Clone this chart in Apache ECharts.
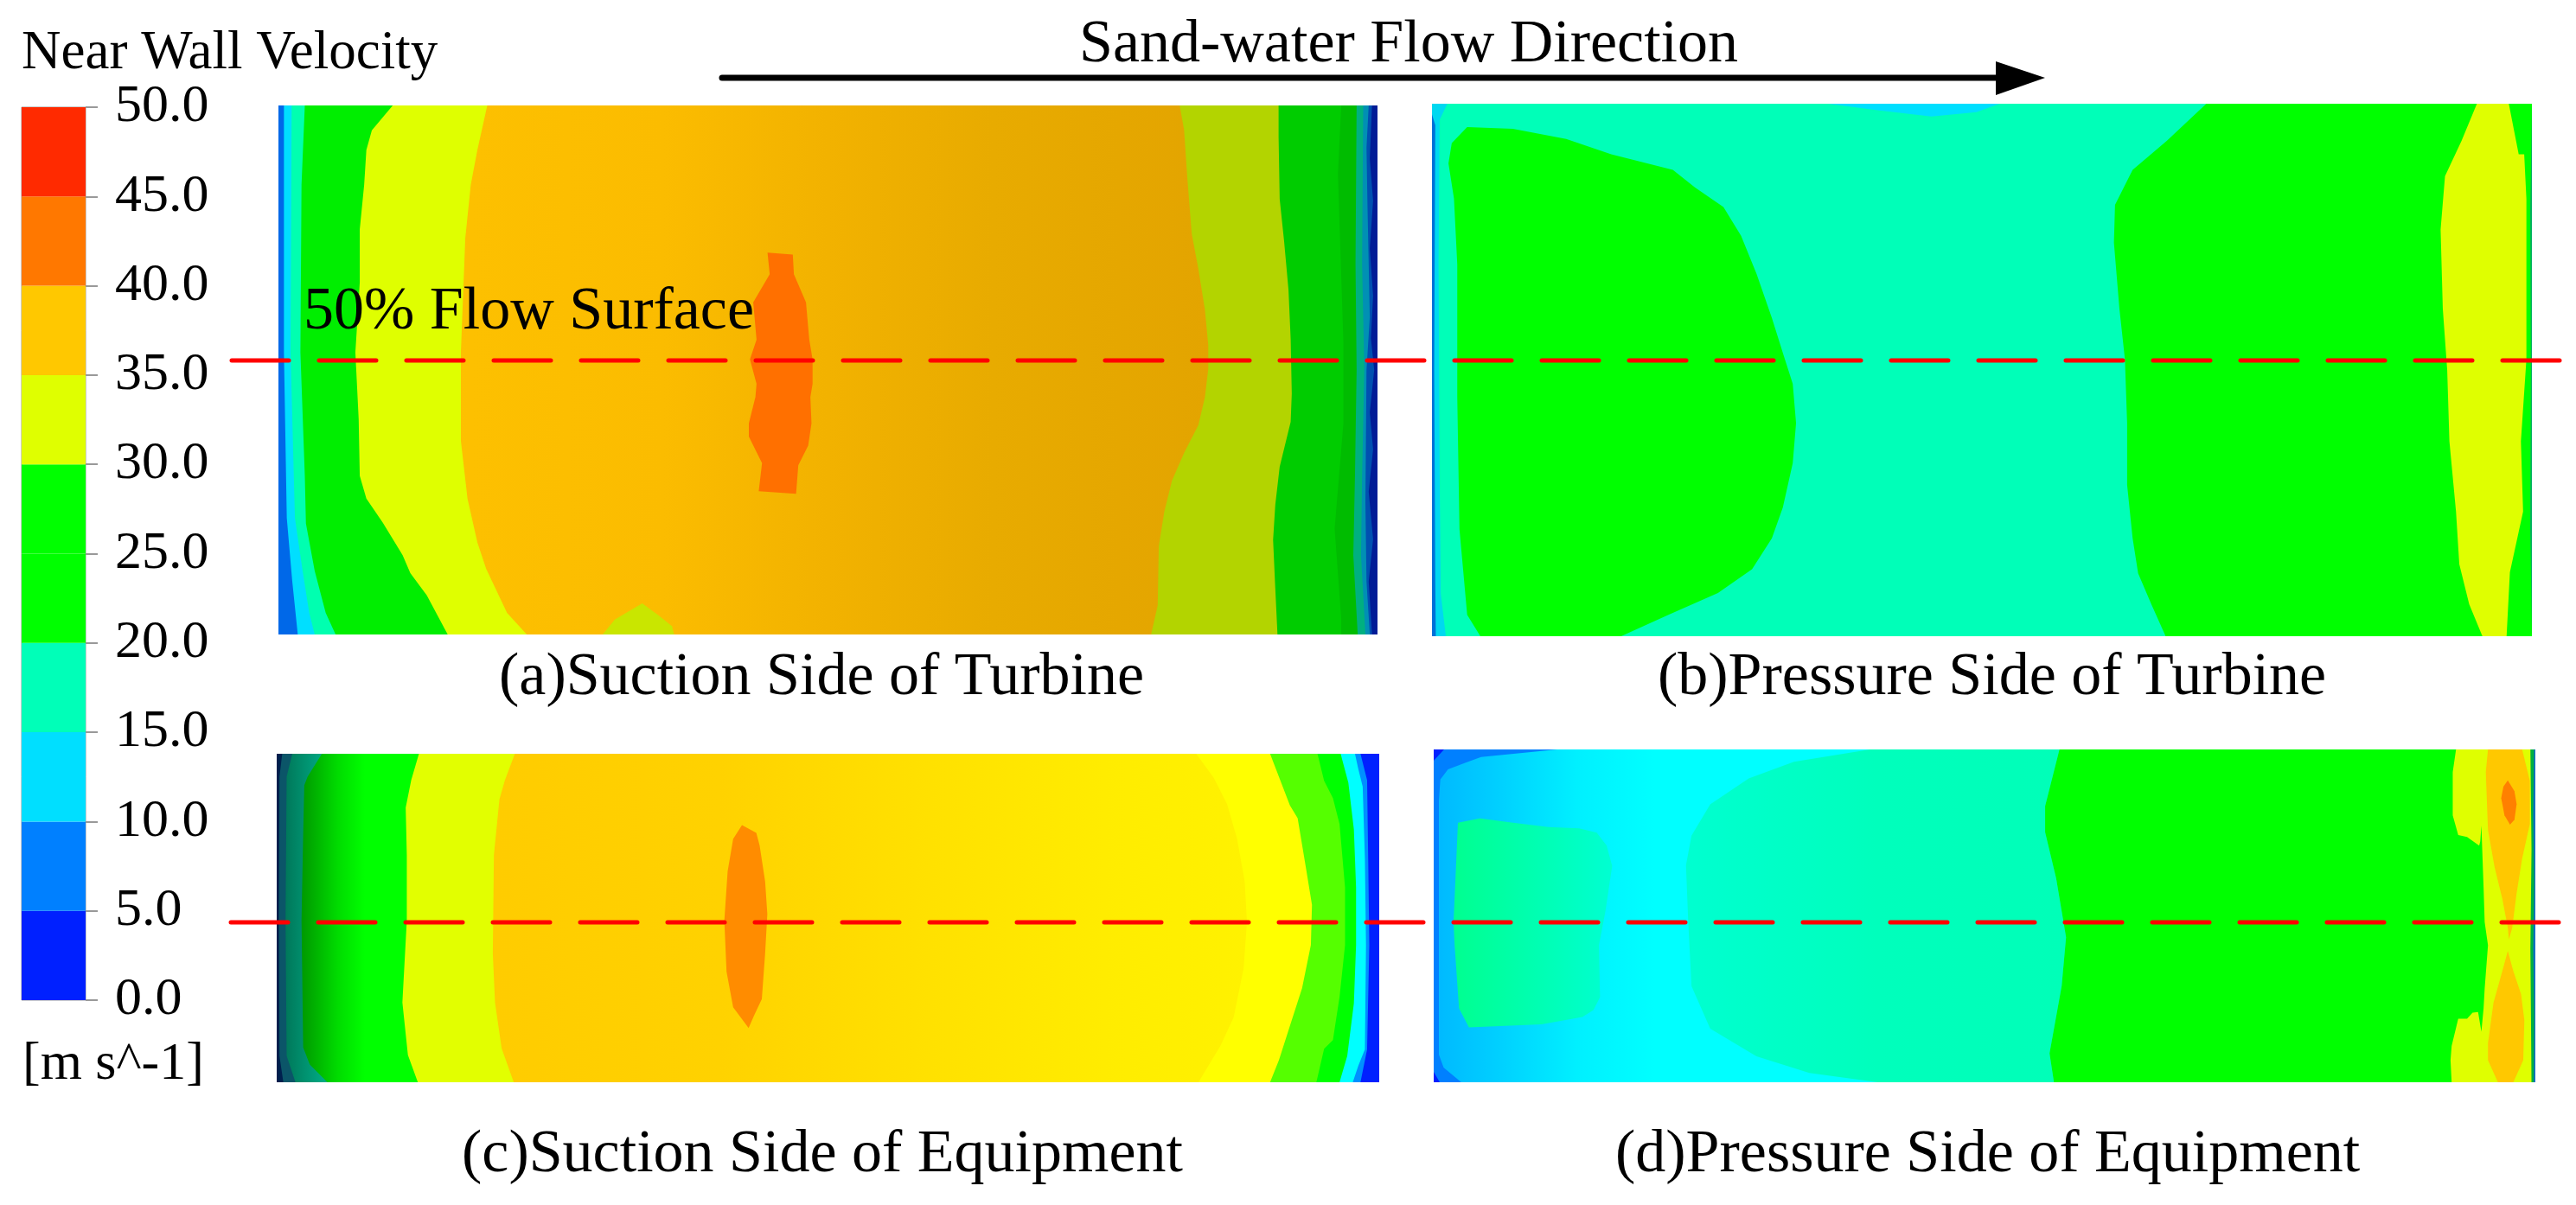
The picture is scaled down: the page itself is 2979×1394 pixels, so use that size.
<!DOCTYPE html>
<html>
<head>
<meta charset="utf-8">
<script src="https://cdn.jsdelivr.net/npm/echarts@6/dist/echarts.min.js"></script>
<style>html,body{margin:0;padding:0;background:#fff}#c{width:2979px;height:1394px}</style>
</head>
<body>
<div id="c"></div>
<script>
// Colour bar
const levels = [0,5,10,15,20,25,30,35,40,45,50];
const bandColors = ['#0020FF','#0080FF','#00DFFF','#00FFB8','#00FF00','#00FF00','#DFFF00','#FFC800','#FF7800','#FF2A00'];
const barCategory = ['velocity'];
const unitText = '[m s^-1]';
const legendTitle = 'Near Wall Velocity';
const flowText = 'Sand-water Flow Direction';
const surfaceText = '50% Flow Surface';
const captions = ['(a)Suction Side of Turbine','(b)Pressure Side of Turbine','(c)Suction Side of Equipment','(d)Pressure Side of Equipment'];

// Contour boundaries: [chord %, span %]
const fullPanel = [[0,0],[100,0],[100,100],[0,100]];

// (a) suction side of turbine
const a35Left = [[19.0,0],[18.1,8.4],[17.5,15],[17.0,25.1],[16.6,46.7],[16.6,63.4],[17.2,74.3],[18.1,82.6],[18.9,87.6],[20.8,95.9],[22.6,100]];
const a30Left = [[10.4,0],[8.5,4.7],[8.0,8.4],[7.8,15],[7.4,23.4],[7.4,33.4],[7.0,46.7],[7.3,59.3],[7.4,70],[8.0,74.3],[9.5,78.9],[11.3,85],[12.0,88.4],[13.5,92.6],[15.4,100]];
const a20Left = [[2.4,0],[2.1,15],[2.0,46.7],[2.4,70],[2.5,79],[3.3,88],[4.3,95.9],[5.2,100]];
const a15Left = [[1.2,0],[1.1,46.7],[1.5,78],[2.2,88],[2.8,95.9],[3.3,100]];
const a10Left = [[0.5,0],[0.5,46.7],[0.76,78],[1.26,90],[1.76,100]];
const aBump = [[29.5,100],[30.6,97.2],[33.1,94.1],[34.6,96.4],[35.8,98.4],[36.0,100]];
const aPeak = [[44.5,27.8],[46.8,28.2],[46.9,31.9],[48.0,37.2],[48.3,44.3],[48.6,48],[48.6,52.6],[48.4,55.1],[48.5,60.1],[48.2,64.3],[47.3,68],[47.1,73.4],[43.7,72.9],[44.0,67.6],[42.8,62.6],[42.8,60.1],[43.4,55.1],[43.5,52.6],[42.9,48],[43.5,44.3],[43.2,37.2],[44.7,31.9]];
const a35Right = [[82.0,0],[82.4,4.6],[82.7,13.8],[83.1,24.3],[83.7,30.9],[84.3,38.7],[84.6,45.3],[84.6,49.8],[84.3,55.1],[83.7,60.4],[82.4,65.7],[81.3,70.9],[80.6,76.8],[80.1,83.3],[80.0,94.5],[79.4,100]];
const a30Right = [[91.0,0],[91.0,5.9],[91.1,17.7],[91.5,25.6],[91.9,34.8],[92.1,44.1],[92.2,54.5],[92.1,59.8],[91.1,68.3],[90.7,75.5],[90.5,82.1],[90.7,91.3],[90.9,100]];
const a25Right = [[96.7,0],[96.4,13],[96.9,45],[96.9,60],[96.1,80],[96.7,97],[96.7,100]];
const a20Right = [[98.1,0],[98.0,30],[98.1,50],[97.95,70],[97.8,85],[98.2,100]];
const a15Right = [[98.7,0],[98.6,30],[98.8,50],[98.6,70],[98.5,85],[98.9,100]];
const a10Right = [[99.2,0],[99.0,8],[99.1,20],[99.3,40],[99.0,50],[98.9,75],[99.0,90],[99.3,100]];
const a5Right = [[99.5,0],[99.3,10],[99.6,18],[99.3,27],[99.6,36],[99.4,44],[99.7,50],[99.3,58],[99.6,65],[99.2,73],[99.6,82],[99.2,90],[99.5,100]];

// (b) pressure side of turbine
const bCyanTop = [[36.0,0],[40.5,1.2],[45.4,2.4],[49.5,1.6],[51.6,0]];
const bGreenLeft = [[3.2,4.4],[7.35,4.7],[12.2,6.6],[16.3,9.5],[21.9,12.4],[23.9,15.7],[26.5,19.4],[28.1,24.8],[29.5,31.9],[30.9,40.2],[31.9,46.8],[32.8,52.6],[33.1,60],[32.8,67.5],[31.9,75.8],[30.9,81.6],[29.1,87.4],[26.0,91.9],[21.5,96],[17.2,100],[4.4,100],[3.2,96],[2.5,79.9],[2.3,55.1],[2.3,30.2],[2.0,17.8],[1.5,11.2],[1.8,7.4]];
const b30Right = [[70.4,0],[66.8,7.0],[63.7,12.4],[62.1,19.0],[62.0,26.1],[62.5,38.5],[63.0,48],[63.2,60],[63.2,71.6],[63.7,81.6],[64.2,88.2],[65.4,94],[66.7,100]];
const bYellowRight = [[95.0,0],[93.6,7],[92.1,13.6],[91.7,23.6],[91.9,38.5],[92.3,50],[92.5,63.4],[93.1,76.6],[93.4,86.5],[94.3,94],[95.5,100],[97.7,100],[98.0,88],[99.2,76.6],[99.0,63.4],[99.5,48],[99.5,30],[99.5,17.8],[99.3,9.5],[98.8,9.5],[97.9,0]];
const bCyanLeft = [[0,0],[1.4,0],[0.7,3],[0.6,30],[0.7,70],[0.8,92],[1.26,100],[0,100]];
const bBlueLeft = [[0,2],[0.3,4],[0.2,50],[0.3,90],[0.35,100],[0,100]];
const bEdgeRight = [[100,0],[99.85,20],[99.9,50],[99.85,80],[100,100]];

// (c) suction side of equipment
const c35Left = [[21.6,0],[20.7,8],[20.2,13.9],[19.7,30.8],[19.6,60.8],[19.8,75.7],[20.4,89.7],[21.5,100]];
const c30Left = [[12.9,0],[12.2,8],[11.7,16.4],[11.8,30.8],[11.8,50.8],[11.4,75.7],[11.9,91.7],[12.8,100]];
const c20Left = [[4.1,0],[2.8,7],[2.5,9.6],[2.4,24.5],[2.25,50.8],[2.4,89.4],[3.0,94.6],[4.6,100]];
const c15Left = [[1.41,0],[0.9,7],[0.8,50.8],[0.9,92],[1.7,100]];
const c10Left = [[0.5,0],[0.25,7],[0.2,50.8],[0.25,92],[0.6,100]];
const cPeak = [[42.2,21.7],[43.5,24.1],[43.8,27.9],[44.3,38.9],[44.5,48.8],[44.3,60.8],[44.0,74.7],[43.3,79.7],[42.8,83.5],[41.4,77.2],[40.8,66.3],[40.6,50.8],[40.9,35.8],[41.4,25.9]];
const c36Right = [[83.4,0],[85.0,7.4],[86.2,15.3],[87.1,25.8],[87.8,38.9],[88.0,51.2],[87.7,65.3],[86.8,80.2],[85.6,88.9],[83.6,100]];
const c30Right = [[90.1,0],[91.9,15.7],[92.6,19.6],[93.3,33.7],[93.9,46],[93.8,58.2],[93.0,71.4],[91.9,82.8],[90.9,93.3],[90.1,100]];
const c25Right = [[94.4,0],[95.0,8.2],[95.8,13.5],[96.4,21.4],[96.9,40.7],[96.9,58.2],[96.4,74],[95.8,87.2],[95.0,89.8],[94.3,100]];
const c15Right = [[96.5,0],[97.2,8.8],[97.7,23],[97.9,40.7],[97.9,58.2],[97.7,76],[97.1,92],[96.4,100]];
const c10Right = [[97.8,0],[98.1,4.6],[98.5,10],[98.7,32],[98.8,58.2],[98.7,90],[98.1,95],[97.6,100]];
const c5Right = [[98.3,0],[98.9,8],[99.0,32],[99.1,58.2],[98.9,90],[98.3,100]];

// (d) pressure side of equipment
const dBlueFrame = [[0,0],[11.2,0],[4.3,2.3],[2.8,4.1],[1.3,6],[0.6,9],[0.47,15.5],[0.47,91.7],[0.9,95.6],[2.5,100],[0,100]];
const dDeepTop = [[0,0],[0.94,0],[0,3.4]];
const dDeepBottom = [[0,96.9],[0.55,100],[0,100]];
const dTealMain = [[39.6,0],[32.7,3.7],[28.6,8.7],[25.1,16.5],[23.4,25.9],[22.9,34.8],[23.1,51.5],[23.4,71.1],[25.1,83.9],[29.3,92.2],[34.1,97.2],[40.3,100],[56.3,100],[55.9,91.3],[57.0,71.1],[57.4,56.4],[56.5,38.7],[55.5,24.9],[55.5,17],[56.8,0]];
const dGreenMain = [[56.8,0],[55.5,17],[55.5,24.9],[56.5,38.7],[57.4,56.4],[57.0,71.1],[55.9,91.3],[56.3,100],[100,100],[100,0]];
const dTealInner = [[2.2,22.0],[4.2,20.7],[7.2,22.0],[10.4,23.3],[13.2,23.7],[14.8,25.0],[15.7,28.9],[16.2,35.0],[15.6,48.4],[15.0,58.8],[15.1,74.4],[14.5,78.3],[13.5,80.4],[9.8,82.6],[3.2,83.5],[2.3,77.8],[1.9,58.8],[1.8,51.9],[2.0,37.1]];
const d30Right = [[92.8,0],[92.5,6.8],[92.5,19.8],[93.0,25.7],[93.8,26.3],[94.9,28.9],[95.0,27.6],[95.1,22.9],[95.3,41.5],[95.4,51.9],[95.7,58.8],[95.4,71.8],[95.3,77.8],[95.1,84.8],[94.8,78.9],[94.3,79.1],[93.8,80.9],[93.0,80.9],[92.4,89.1],[92.3,93.4],[92.4,100],[99.7,100],[99.7,0]];
const d35Upper = [[95.7,0],[95.5,6.8],[95.7,24.2],[96.3,35.4],[97.0,44.9],[97.5,53.6],[97.6,57.1],[97.9,53.6],[98.3,43.2],[98.8,32.8],[99.5,22.4],[99.5,9.4],[98.8,0]];
const d35Lower = [[97.5,60.5],[98.0,66.6],[98.7,73.5],[99.0,81.3],[98.9,93.4],[98.0,100],[96.6,100],[95.7,93.4],[95.7,88.2],[96.2,76.1],[97.0,66.6]];
const d40Spot = [[97.5,9.3],[98.1,12.5],[98.3,16.4],[98.1,21.1],[97.7,22.6],[97.2,19.8],[96.9,14.6],[97.1,11.2]];
const dEdgeGreen = [[99.55,0],[99.65,30],[99.55,60],[99.65,100],[100,100],[100,0]];
const dEdgeBlue = [[99.88,0],[99.8,20],[99.9,40],[99.8,60],[99.9,80],[99.85,100],[100,100],[100,0]];

const toLeft = line => [[0,line[0][1]], ...line, [0,line[line.length-1][1]]];
const toRight = line => [[100,line[0][1]], ...line, [100,line[line.length-1][1]]];
const grad = (...pairs) => new echarts.graphic.LinearGradient(0,0,1,0,pairs.map(p=>({offset:p[0],color:p[1]})));

const panels = [
 { box:{left:322,top:122,width:1271,height:612}, layers:[
  [fullPanel, grad([0,'#FFC400'],[.35,'#FBBC00'],[.5,'#F2B200'],[.65,'#E8AB00'],[.85,'#E3A400'])],
  [toLeft(a35Left), '#DFFF00'],
  [toLeft(a30Left), '#00EE00'],
  [toLeft(a20Left), '#00FFB0'],
  [toLeft(a15Left), '#00DFFF'],
  [toLeft(a10Left), '#0068E8'],
  [aBump, '#C9E600'],
  [aPeak, '#FF7000'],
  [toRight(a35Right), '#B3D400'],
  [toRight(a30Right), '#00CC00'],
  [toRight(a25Right), '#00BC00'],
  [toRight(a20Right), '#00B080'],
  [toRight(a15Right), '#0090B4'],
  [toRight(a10Right), '#0050B0'],
  [toRight(a5Right), '#001C96']
 ]},
 { box:{left:1656,top:120,width:1272,height:616}, layers:[
  [fullPanel, '#00FFB8'],
  [bCyanTop, '#00DFFF'],
  [bCyanLeft, '#00D8F0'],
  [bBlueLeft, '#0070D8'],
  [bGreenLeft, '#00FF00'],
  [toRight(b30Right), '#00FF00'],
  [bYellowRight, '#DFFF00'],
  [toRight(bEdgeRight), '#00B060']
 ]},
 { box:{left:320,top:872,width:1275,height:380}, layers:[
  [fullPanel, grad([.2,'#FFCC00'],[.4,'#FFD200'],[.55,'#FFDE00'],[.75,'#FFEC00'],[.88,'#FFF200'])],
  [toLeft(c35Left), '#E2FF00'],
  [toLeft(c30Left), grad([.18,'#009A00'],[.43,'#00DC00'],[.62,'#00FF00'])],
  [toLeft(c20Left), grad([.18,'#00785A'],[.9,'#00A882'])],
  [toLeft(c15Left), '#0B5568'],
  [toLeft(c10Left), '#00204E'],
  [cPeak, '#FF8C00'],
  [toRight(c36Right), '#FFFF00'],
  [toRight(c30Right), '#55FF00'],
  [toRight(c25Right), '#00FF00'],
  [toRight(c15Right), '#00FFFF'],
  [toRight(c10Right), '#0090FF'],
  [toRight(c5Right), '#0020FF']
 ]},
 { box:{left:1658,top:867,width:1274,height:385}, layers:[
  [fullPanel, grad([0,'#00B8FF'],[.05,'#00CCFF'],[.13,'#00F0FF'],[.2,'#00FFFF'])],
  [dBlueFrame, '#0080FF'],
  [dDeepTop, '#0020FF'],
  [dDeepBottom, '#0020FF'],
  [dTealMain, grad([0,'#00FFD0'],[.5,'#00FFBC'],[1,'#00FFB8'])],
  [dTealInner, grad([0,'#00FF90'],[.5,'#00FFB0'],[1,'#00FFD2'])],
  [dGreenMain, '#00FF00'],
  [d30Right, '#DFFF00'],
  [d35Upper, '#FFC800'],
  [d35Lower, '#FFC800'],
  [d40Spot, '#FF8000'],
  [dEdgeGreen, '#00B040'],
  [dEdgeBlue, '#1070C0']
 ]}
];

const FONT = '"Liberation Serif"';
const grids = [], xAxes = [], yAxes = [], series = [];

// colour bar: grid 0
grids.push({left:25, top:124, width:74, height:1033, show:true, borderColor:'#999', borderWidth:1, backgroundColor:'transparent'});
xAxes.push({type:'category', gridIndex:0, data:barCategory, show:false});
yAxes.push({type:'value', gridIndex:0, position:'right', min:levels[0], max:levels[levels.length-1], interval:5,
  splitLine:{show:false}, axisLine:{show:false},
  axisTick:{show:true, length:14, lineStyle:{color:'#999', width:2}},
  axisLabel:{show:true, margin:34, color:'#000', fontFamily:FONT, fontSize:62, padding:[16,0,0,0], formatter:v=>v.toFixed(1)}});
bandColors.forEach((c,i)=>{
  series.push({type:'bar', xAxisIndex:0, yAxisIndex:0, stack:'bar', barWidth:'100%', silent:true,
    data:[levels[i+1]-levels[i]], itemStyle:{color:c}});
});

panels.forEach((p,k)=>{
  const gi = k+1;
  grids.push({left:p.box.left, top:p.box.top, width:p.box.width, height:p.box.height});
  xAxes.push({type:'value', gridIndex:gi, min:0, max:100, show:false});
  yAxes.push({type:'value', gridIndex:gi, min:0, max:100, inverse:true, show:false});
  series.push({
    type:'custom', xAxisIndex:gi, yAxisIndex:gi, silent:true, clip:true, animation:false,
    data:p.layers.map(l=>l[0][0]),
    renderItem:(params,api)=>{
      const layer = p.layers[params.dataIndex];
      return {type:'polygon', shape:{points:layer[0].map(pt=>api.coord(pt))}, style:{fill:layer[1]}};
    }
  });
});

const txt = (s,x,base,size,align) => ({type:'text', z:100, x:x, y:base-0.3375*size,
  style:{text:s, font:size+'px '+FONT, fill:'#000', textAlign:align||'left', textVerticalAlign:'middle'}});
const dash = (x1,x2,y) => ({type:'line', z:90, shape:{x1:x1,y1:y,x2:x2,y2:y},
  style:{stroke:'#FF0000', lineWidth:5, lineDash:[66,35], lineCap:'round'}});

const graphic = [
  txt(legendTitle,25,84,63),
  txt(flowText,1248,76,70),
  txt(surfaceText,351,385,70),
  txt(unitText,26,1253,62),
  txt(captions[0],577,808,70),
  txt(captions[1],1917,808,70),
  txt(captions[2],534,1360,70),
  txt(captions[3],1868,1360,70),
  dash(268,2963,417),
  dash(267,2963,1067),
  {type:'line', z:90, shape:{x1:835,y1:90,x2:2310,y2:90}, style:{stroke:'#000', lineWidth:7, lineCap:'round'}},
  {type:'polygon', z:90, shape:{points:[[2308,71],[2365,90],[2308,110]]}, style:{fill:'#000'}}
];

const chart = echarts.init(document.getElementById('c'), null, {renderer:'canvas', width:2979, height:1394});
chart.setOption({animation:false, backgroundColor:'#fff', grid:grids, xAxis:xAxes, yAxis:yAxes, series:series, graphic:graphic});
</script>
</body>
</html>
